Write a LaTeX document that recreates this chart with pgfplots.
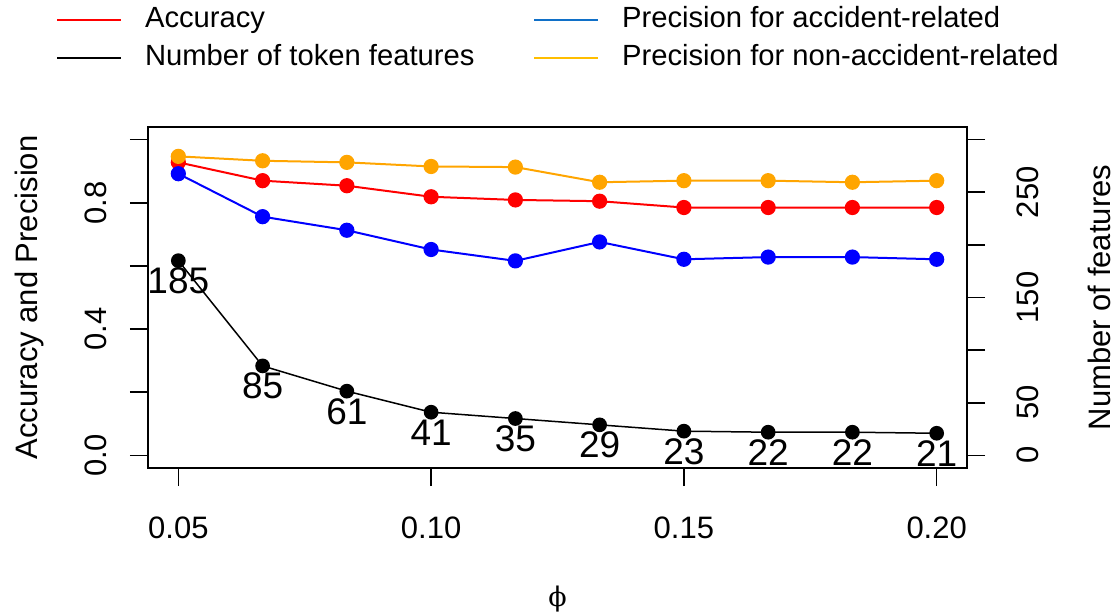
\documentclass[border=0pt]{standalone}
\usepackage{pgfplots}
\usepackage{pgfplotstable}
\pgfplotsset{compat=1.18}
\usepackage{fontspec}
\setmainfont{Liberation Sans}
\newfontfamily\symfont{DejaVu Serif}
\definecolor{rred}{RGB}{255,0,0}
\definecolor{rblue}{RGB}{0,0,255}
\definecolor{rorange}{RGB}{255,165,0}
\definecolor{legblue}{RGB}{16,112,200}
\definecolor{leggold}{RGB}{255,190,0}
\newcommand{\axfont}{\fontsize{15.5}{18}\selectfont}

\pgfplotstableread{
phi acc precacc precnon nfeat
0.05 0.928 0.892 0.947 185
0.06667 0.870 0.756 0.933 85
0.08333 0.854 0.713 0.928 61
0.1 0.819 0.652 0.915 41
0.11667 0.809 0.616 0.913 35
0.13333 0.805 0.676 0.865 29
0.15 0.785 0.621 0.870 23
0.16667 0.785 0.628 0.870 22
0.18333 0.785 0.628 0.865 22
0.2 0.785 0.621 0.870 21
}\datatable

\begin{document}
\begin{tikzpicture}
\useasboundingbox (0,0) rectangle (559pt,307.5pt);
\pgfplotsset{
  common/.style={at={(74pt,73.5pt)}, anchor=south west, scale only axis,
    width=409.5pt, height=170.5pt, xmin=0.044, xmax=0.206,
    tick align=outside, major tick length=9pt,
    every tick/.style={black, line width=0.8pt},
    tick label style={font=\axfont},
    /pgf/number format/assume math mode=true, clip=false,
    axis line style={line width=1pt}}
}
\begin{axis}[common, ymin=-0.04, ymax=1.04,
  xtick={0.05,0.1,0.15,0.2}, xticklabels={0.05,0.10,0.15,0.20}, xtick pos=bottom,
  ytick={0,0.2,0.4,0.6,0.8,1}, yticklabels={0.0,,0.4,,0.8,}, ytick pos=left,
  xticklabel style={anchor=base, yshift=-26pt},
  yticklabel style={xshift=-11.5pt, rotate=90, anchor=base},
  every axis y label/.style={at={(axis description cs:-0.1355,0.5)}, anchor=base, rotate=90, font=\axfont},
  every axis x label/.style={at={(axis description cs:0.5,-0.4047)}, anchor=base, font=\fontsize{13.5}{16}\symfont},
  ylabel={Accuracy and Precision}, xlabel={ϕ}]
\addplot[rred, line width=1pt, mark=*, mark size=3.3pt, mark options={solid}] table[x=phi,y=acc]{\datatable};
\addplot[rblue, line width=1pt, mark=*, mark size=3.3pt, mark options={solid}] table[x=phi,y=precacc]{\datatable};
\addplot[rorange, line width=1pt, mark=*, mark size=3.3pt, mark options={solid}] table[x=phi,y=precnon]{\datatable};
\end{axis}
\begin{axis}[common, ymin=-12, ymax=312,
  axis x line=none, axis y line*=right,
  ytick={0,50,100,150,200,250,300}, yticklabels={0,50,,150,,250,}, ytick pos=right,
  yticklabel style={xshift=26.5pt, rotate=90, anchor=base},
  every axis y label/.style={at={(axis description cs:1.1746,0.5)}, anchor=base, rotate=90, font=\axfont},
  ylabel={Number of features},
  legend columns=2, legend cell align=left,
  legend style={at={(axis description cs:-0.1123,1.3548)}, anchor=north west,
    draw=none, fill=none, inner sep=0pt, outer sep=0pt, row sep=5.5pt,
    font=\fontsize{14.6}{17}\selectfont,
    nodes={inner sep=0pt, text height=10.5pt, text depth=3pt},
    /tikz/every odd column/.append style={column sep=11.5pt},
    /tikz/every even column/.append style={column sep=29.3pt}},
  legend image code/.code={\draw[#1, line width=1pt] (0pt,0pt) -- (32pt,0pt);}]
\addplot[black, line width=0.75pt, mark=*, mark size=3.3pt, forget plot,
  nodes near coords,
  nodes near coords style={font=\fontsize{18.5}{20}\selectfont, anchor=base, yshift=-16.5pt, black}]
  table[x=phi,y=nfeat]{\datatable};
\addlegendimage{rred}\addlegendentry{Accuracy}
\addlegendimage{legblue}\addlegendentry{Precision for accident-related}
\addlegendimage{black}\addlegendentry{Number of token features}
\addlegendimage{leggold}\addlegendentry{Precision for non-accident-related}
\end{axis}
\end{tikzpicture}
\end{document}
